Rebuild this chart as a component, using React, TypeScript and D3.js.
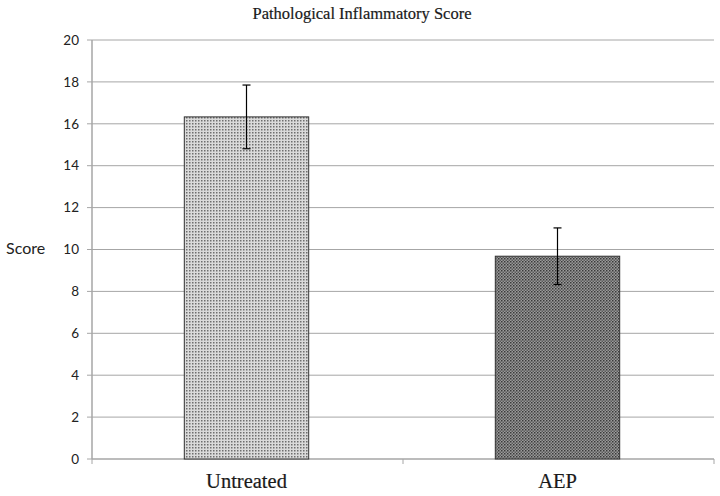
import React from "react";
import * as d3 from "d3";

const categories = ["Untreated", "AEP"];
const values = [16.33, 9.68];
const errors = [1.52, 1.35];
const yTicks = [0, 2, 4, 6, 8, 10, 12, 14, 16, 18, 20];

export default function App() {
  const W = 720, H = 496;
  const left = 92, right = 714, top = 40, bottom = 459;
  const x = d3.scaleBand().domain(categories).range([left, right]).paddingInner(0).paddingOuter(0);
  const y = d3.scaleLinear().domain([0, 20]).range([bottom, top]);
  const bw = x.bandwidth() * 0.4;
  const fills = ["url(#dotsLight)", "url(#dotsDark)"];
  const serif = "'Liberation Serif', 'Times New Roman', serif";
  const sans = "Lato, 'Open Sans', sans-serif";
  return (
    <svg width={W} height={H} style={{ position: "absolute", left: 0, top: 0, background: "#fff" }}>
      <defs>
        <pattern id="dotsLight" width={3} height={3} patternUnits="userSpaceOnUse">
          <rect width={3} height={3} fill="#dadada" />
          <rect x={0} y={0} width={1.5} height={1.5} fill="#6e6e6e" />
        </pattern>
        <pattern id="dotsDark" width={3} height={3} patternUnits="userSpaceOnUse">
          <rect width={3} height={3} fill="#9a9a9a" />
          <rect x={0} y={0} width={1.5} height={1.5} fill="#3a3a3a" />
          <rect x={1.5} y={1.5} width={1.5} height={1.5} fill="#5a5a5a" />
        </pattern>
      </defs>
      <text x={362} y={19} textAnchor="middle" fontFamily={serif} fontSize={16.5} fill="#1a1a1a" stroke="#1a1a1a" strokeWidth={0.2}>
        Pathological Inflammatory Score
      </text>
      {yTicks.map((t) => (
        <g key={t}>
          {t > 0 && <line x1={left} x2={right} y1={y(t)} y2={y(t)} stroke="#a6a6a6" strokeWidth={1} />}
          <line x1={left - 5} x2={left} y1={y(t)} y2={y(t)} stroke="#a6a6a6" strokeWidth={1} />
          <text x={left - 13} y={y(t)} dy="0.35em" textAnchor="end" fontFamily={sans} fontSize={13.5} fill="#222">
            {t}
          </text>
        </g>
      ))}
      <line x1={left} x2={left} y1={top} y2={bottom} stroke="#a6a6a6" strokeWidth={1.5} />
      <line x1={left} x2={right} y1={bottom} y2={bottom} stroke="#a6a6a6" strokeWidth={1.5} />
      {categories.map((c) => (
        <line key={c} x1={x(c)!} x2={x(c)!} y1={bottom} y2={bottom + 5} stroke="#a6a6a6" />
      ))}
      <line x1={right} x2={right} y1={bottom} y2={bottom + 5} stroke="#a6a6a6" />
      {categories.map((c, i) => {
        const cx = x(c)! + x.bandwidth() / 2 - 1;
        return (
          <g key={c}>
            <rect x={cx - bw / 2} y={y(values[i])} width={bw} height={bottom - y(values[i])} fill={fills[i]} stroke="#333" strokeWidth={1} />
            <line x1={cx} x2={cx} y1={y(values[i] + errors[i])} y2={y(values[i] - errors[i])} stroke="#000" strokeWidth={1.2} />
            <line x1={cx - 4} x2={cx + 4} y1={y(values[i] + errors[i])} y2={y(values[i] + errors[i])} stroke="#000" strokeWidth={1.2} />
            <line x1={cx - 4} x2={cx + 4} y1={y(values[i] - errors[i])} y2={y(values[i] - errors[i])} stroke="#000" strokeWidth={1.2} />
            <text x={cx} y={488} textAnchor="middle" fontFamily={serif} fontSize={20.5} fill="#1a1a1a" stroke="#1a1a1a" strokeWidth={0.2}>
              {c}
            </text>
          </g>
        );
      })}
      <text x={6} y={254} fontFamily={sans} fontSize={16} fill="#222">Score</text>
    </svg>
  );
}
